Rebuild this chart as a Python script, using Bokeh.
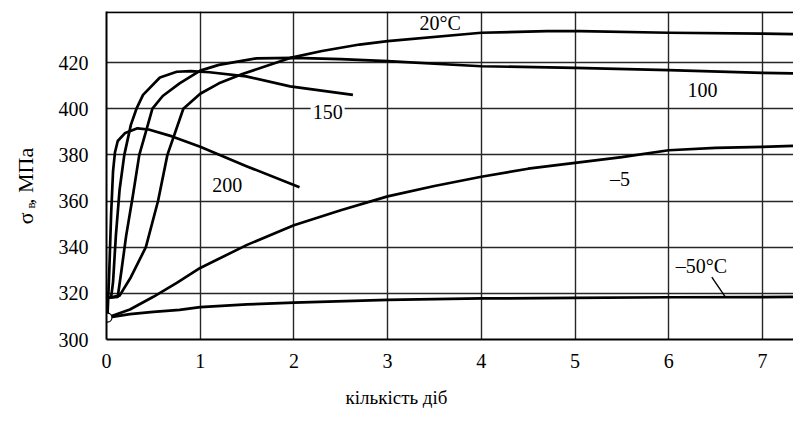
from bokeh.plotting import figure
from bokeh.models import Label, Span, Range1d, FixedTicker
from bokeh.layouts import row, column
from bokeh.core.properties import value
from bokeh.embed import file_html
from bokeh.resources import INLINE

# ---- data (days, MPa) ----
x_ticks = [0, 1, 2, 3, 4, 5, 6, 7]
y_ticks = [300, 320, 340, 360, 380, 400, 420]

start_x = [0.01]
start_y = [309.5]

c200_x = [0.01, 0.03, 0.05, 0.07, 0.09, 0.12, 0.2, 0.33, 0.45, 0.7, 1.0, 1.5, 2.06]
c200_y = [309.5, 330, 355, 373, 381, 386, 389.5, 391.5, 391, 388, 383.5, 375, 366]

c150_x = [0.01, 0.01, 0.05, 0.07, 0.1, 0.14, 0.19, 0.26, 0.32, 0.39, 0.57, 0.75, 0.9, 1.1, 1.49, 1.96, 2.63]
c150_y = [309.5, 318, 318.5, 325, 345, 365, 380, 393, 400, 406, 413.5, 416, 416.3, 415.8, 414, 409.7, 406]

c100_x = [0.01, 0.01, 0.12, 0.16, 0.21, 0.28, 0.35, 0.42, 0.49, 0.6, 0.78, 1.0, 1.2, 1.6, 2.0, 2.5, 3, 4, 5, 6, 7, 7.45]
c100_y = [309.5, 318, 318.5, 330, 345, 362, 380, 390, 400, 405.5, 411, 416.5, 419, 421.8, 422, 421.5, 420.6, 418.4, 417.7, 416.7, 415.5, 415.2]

c20_x = [0.01, 0.01, 0.14, 0.26, 0.42, 0.55, 0.65, 0.82, 1.0, 1.2, 1.45, 1.96, 2.3, 2.7, 3, 4, 4.7, 5.05, 6, 7, 7.45]
c20_y = [309.5, 318, 319, 327, 340, 360, 380, 400, 406.5, 411, 415, 422, 425, 427.8, 429.3, 432.9, 433.6, 433.6, 432.9, 432.5, 432.3]

cm5_x = [0.01, 0.25, 0.5, 0.75, 1.0, 1.5, 2.0, 2.5, 3.0, 3.5, 4.0, 4.5, 5.0, 5.5, 6.0, 6.5, 7.0, 7.45]
cm5_y = [309.5, 313, 318.5, 324.5, 331, 341, 349.5, 356, 362, 366.5, 370.5, 374, 376.5, 379, 382, 383, 383.5, 384]

cm50_x = [0.01, 0.25, 0.5, 0.78, 1.0, 1.5, 2.0, 3.0, 4.0, 5.0, 6.0, 7.0, 7.45]
cm50_y = [309.5, 311, 312, 312.8, 314, 315.2, 316, 317.2, 317.8, 318, 318.3, 318.4, 318.5]

# curve labels: text, x, y
lab_text = ["20°C", "150", "100", "200", "–5", "–50°C"]
lab_x = [3.56, 2.36, 6.36, 1.29, 5.48, 6.35]
lab_y = [437.3, 398.5, 407.9, 367.0, 369.5, 332.0]
lab_bg = [False, True, False, False, False, False]

leader_x = [6.46, 6.6]
leader_y = [327.0, 318.7]

x_title = "кількість діб"
y_title_parts = ["σ", "в", ", МПа"]

FONT = "Liberation Serif"

W, H = 793, 409
LEFT_W = 40
BOTTOM_H = 30
FRAME_L, FRAME_T, FRAME_B = 106, 11, 339
PX_PER_DAY = 93.7
PX_PER_MPA = 2.308

X_END = (W - FRAME_L) / PX_PER_DAY
Y_END = 300 + (FRAME_B - FRAME_T) / PX_PER_MPA

ph = H - BOTTOM_H
p = figure(width=W - LEFT_W, height=ph, x_range=Range1d(0, X_END), y_range=Range1d(300, Y_END),
           output_backend="svg", toolbar_location=None,
           min_border_left=FRAME_L - LEFT_W, min_border_right=0, min_border_top=FRAME_T,
           min_border_bottom=ph - FRAME_B)
p.outline_line_color = None
p.background_fill_color = "white"
p.border_fill_color = "white"

xa = p.xaxis[0]
ya = p.yaxis[0]
xa.ticker = FixedTicker(ticks=x_ticks)
ya.ticker = FixedTicker(ticks=y_ticks)
for ax in (xa, ya):
    ax.major_tick_line_color = None
    ax.minor_tick_line_color = None
    ax.axis_line_color = "black"
    ax.axis_line_width = 2
    ax.major_label_text_font = FONT
    ax.major_label_text_font_size = "20px"
    ax.major_label_text_color = "black"
xa.major_label_standoff = 8
ya.major_label_standoff = 12

for g in (p.xgrid[0], p.ygrid[0]):
    g.grid_line_color = "#262626"
    g.grid_line_width = 1.4
    g.grid_line_alpha = 1.0

p.add_layout(Span(location=Y_END - 0.3, dimension="width", line_color="black", line_width=2))

for xs, ys in [(c200_x, c200_y), (c150_x, c150_y), (c100_x, c100_y), (c20_x, c20_y),
               (cm5_x, cm5_y), (cm50_x, cm50_y)]:
    p.line(xs, ys, line_color="black", line_width=2.7, line_join="round")

p.line(leader_x, leader_y, line_color="black", line_width=1.4)

p.scatter(start_x, start_y, size=9, fill_color="white", line_color="black", line_width=1.2)

for t, x, y, bg in zip(lab_text, lab_x, lab_y, lab_bg):
    lab = Label(x=x, y=y, text=t, text_align="center", text_baseline="middle",
                text_font=FONT, text_font_size="20px", text_color="black")
    if bg:
        lab.background_fill_color = "white"
        lab.padding = 2
    p.add_layout(lab)

# y-title strip (pixel coordinates, no axes); anchors are text centres
yt = figure(width=LEFT_W, height=ph, x_range=Range1d(0, LEFT_W), y_range=Range1d(0, ph),
            output_backend="svg", toolbar_location=None, min_border=0,
            x_axis_type=None, y_axis_type=None)
yt.grid.visible = False
yt.outline_line_color = None
yt_cx = [25, 30, 25]
yt_cy = [239, 224, 190]          # canvas y of each piece's anchor
yt_fs = ["22px", "13px", "22px"]
for t, cx, cy, fs in zip(y_title_parts, yt_cx, yt_cy, yt_fs):
    yt.text(x=[cx], y=[ph - cy], text=[t], angle=1.5708, text_align="center",
            text_baseline="middle", text_font=value(FONT), text_font_size=fs, text_color="black")

# x-title strip
xt = figure(width=W, height=BOTTOM_H, x_range=Range1d(0, W), y_range=Range1d(0, BOTTOM_H),
            output_backend="svg", toolbar_location=None, min_border=0,
            x_axis_type=None, y_axis_type=None)
xt.grid.visible = False
xt.outline_line_color = None
xt.text(x=[396], y=[H - 397], text=[x_title], text_align="center", text_baseline="middle",
        text_font=value(FONT), text_font_size="19px", text_color="black")

layout = column(row(yt, p, spacing=0), xt, spacing=0)
open("out.html", "w").write(file_html(layout, INLINE))
